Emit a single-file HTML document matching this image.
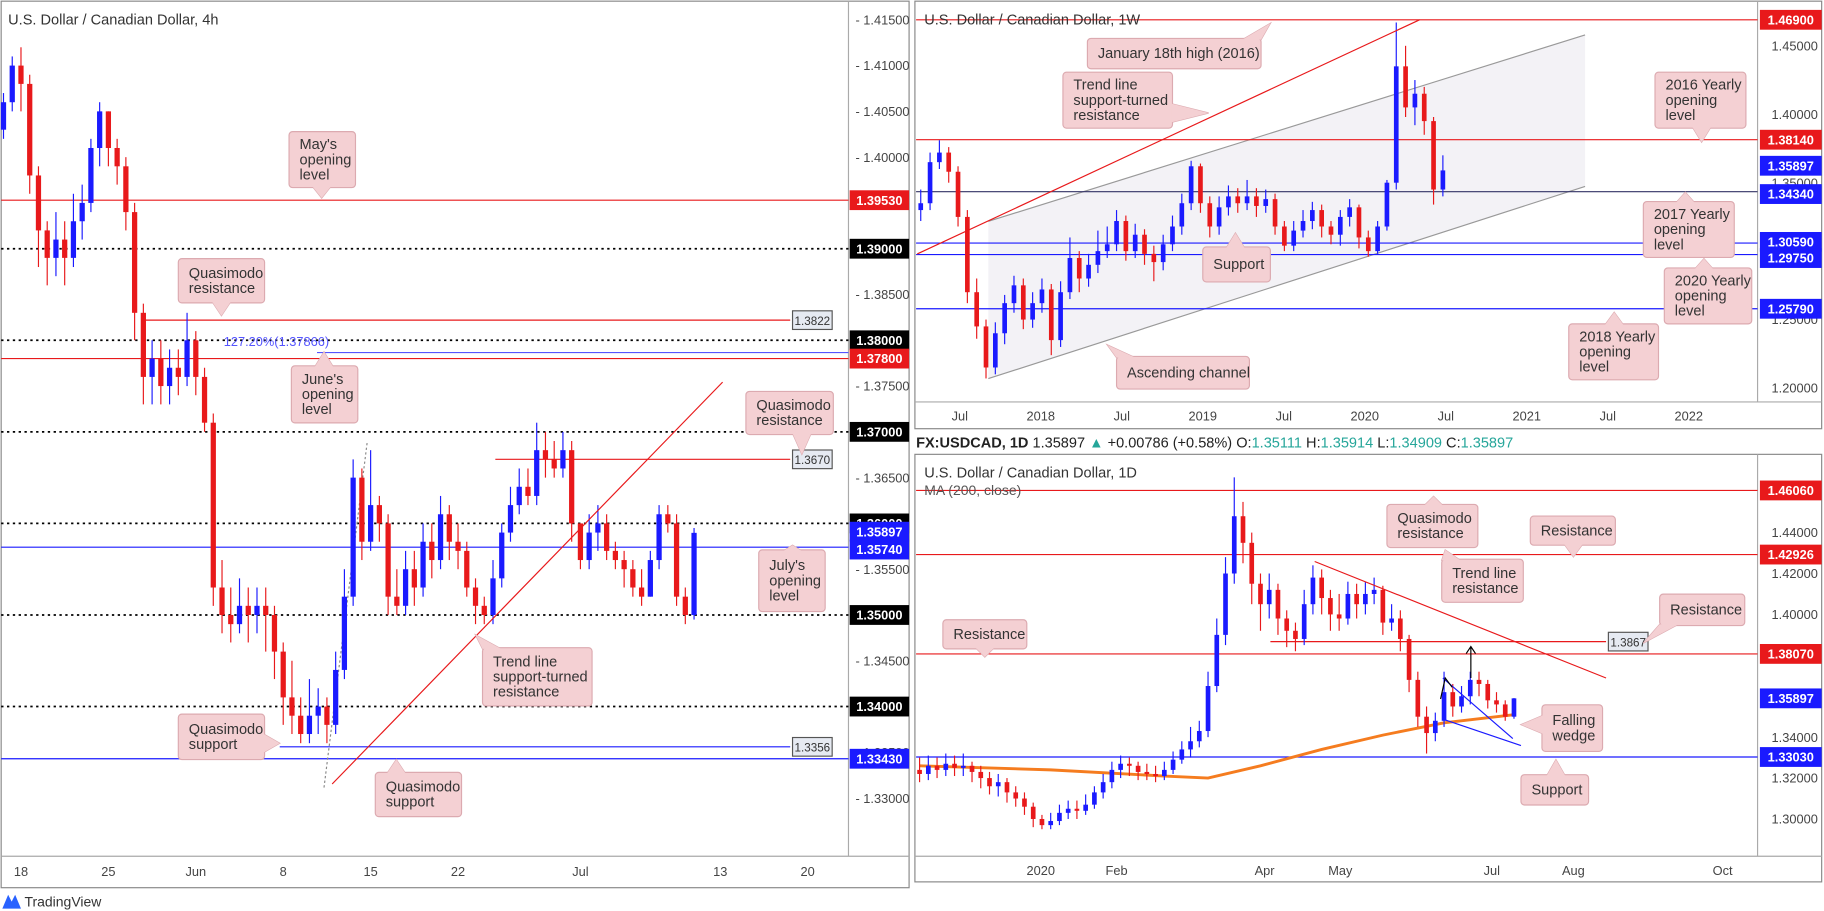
<!DOCTYPE html>
<html><head><meta charset="utf-8"><style>
html,body{margin:0;padding:0;background:#fff;}
svg{display:block;font-family:"Liberation Sans",sans-serif;}
.ax{font-size:11px;fill:#444;}
.lb{font-size:11px;fill:#fff;font-weight:bold;}
.co{font-size:12.5px;fill:#333;}
.cb{fill:#f4d0d3;stroke:#dcaab0;stroke-width:1;}
</style></head><body>
<svg id="chart" width="1824" height="911" viewBox="0 0 1565 782" preserveAspectRatio="none">
<!-- panels -->
<rect x="1" y="1" width="779" height="761" fill="#fff" stroke="#888"/>
<rect x="785" y="1" width="778" height="367" fill="#fff" stroke="#888"/>
<rect x="785" y="390" width="778" height="367" fill="#fff" stroke="#888"/>
<line x1="728" y1="1" x2="728" y2="735" stroke="#aaa"/>
<line x1="1" y1="735" x2="780" y2="735" stroke="#aaa"/>
<line x1="1508" y1="1" x2="1508" y2="345" stroke="#aaa"/>
<line x1="785" y1="345" x2="1563" y2="345" stroke="#aaa"/>
<line x1="1508" y1="390" x2="1508" y2="735" stroke="#aaa"/>
<line x1="785" y1="735" x2="1563" y2="735" stroke="#aaa"/>

<g id="gL"></g>
<g id="gW"></g>
<g id="gD"></g>

<text x="7" y="21" font-size="12.5" fill="#333">U.S. Dollar / Canadian Dollar, 4h</text>
<text x="793" y="21" font-size="12.5" fill="#333">U.S. Dollar / Canadian Dollar, 1W</text>
<text x="793" y="410" font-size="12.5" fill="#333">U.S. Dollar / Canadian Dollar, 1D</text>
<text x="793" y="425" font-size="12" fill="#555">MA (200, close)</text>
<text x="786" y="384" font-size="12.5" fill="#222"><tspan font-weight="bold">FX:USDCAD, 1D</tspan> 1.35897 <tspan fill="#26a69a">▲</tspan> +0.00786 (+0.58%) O:<tspan fill="#26a69a">1.35111</tspan> H:<tspan fill="#26a69a">1.35914</tspan> L:<tspan fill="#26a69a">1.34909</tspan> C:<tspan fill="#26a69a">1.35897</tspan></text>
<g><path d="M2 780 L7 768 L10 774 L13 768 L18 780 Z" fill="#2962ff"/><text x="21" y="778" font-size="12" fill="#333">TradingView</text></g>
</svg>
<script>
// ---------- LEFT 4h ----------
const leftOpen0 = 1.403;
const leftClose = [1.406,1.410,1.408,1.398,1.392,1.389,1.391,1.389,1.393,1.395,1.401,1.405,1.401,1.399,1.394,1.383,1.376,1.378,1.375,1.377,1.376,1.380,1.376,1.371,1.353,1.350,1.349,1.351,1.350,1.351,1.350,1.346,1.341,1.339,1.337,1.339,1.340,1.338,1.344,1.352,1.365,1.358,1.362,1.360,1.352,1.351,1.355,1.353,1.358,1.356,1.361,1.358,1.357,1.353,1.351,1.350,1.354,1.359,1.362,1.364,1.363,1.368,1.367,1.366,1.368,1.360,1.356,1.359,1.360,1.357,1.356,1.355,1.353,1.352,1.356,1.361,1.360,1.352,1.350,1.35897];
const leftHigh = [1.407,1.411,1.412,1.409,1.399,1.393,1.394,1.393,1.396,1.397,1.402,1.406,1.405,1.402,1.400,1.395,1.384,1.380,1.380,1.379,1.379,1.383,1.381,1.377,1.372,1.356,1.353,1.354,1.353,1.353,1.353,1.351,1.347,1.345,1.341,1.343,1.342,1.341,1.346,1.355,1.367,1.366,1.368,1.363,1.361,1.355,1.357,1.357,1.360,1.360,1.363,1.362,1.360,1.358,1.354,1.352,1.356,1.360,1.364,1.366,1.366,1.371,1.370,1.369,1.370,1.369,1.360,1.361,1.362,1.361,1.358,1.357,1.356,1.355,1.357,1.362,1.362,1.361,1.353,1.3595];
const leftLow = [1.402,1.405,1.405,1.396,1.388,1.386,1.387,1.386,1.388,1.391,1.394,1.399,1.399,1.397,1.392,1.380,1.373,1.373,1.373,1.373,1.374,1.375,1.374,1.370,1.351,1.348,1.347,1.348,1.347,1.348,1.346,1.343,1.338,1.337,1.336,1.336,1.337,1.336,1.337,1.343,1.351,1.356,1.357,1.358,1.350,1.350,1.350,1.351,1.352,1.354,1.355,1.356,1.355,1.352,1.349,1.349,1.349,1.353,1.358,1.361,1.362,1.362,1.365,1.365,1.365,1.358,1.355,1.355,1.357,1.356,1.355,1.353,1.352,1.351,1.352,1.355,1.359,1.351,1.349,1.3495];
const leftTicks = [1.415,1.41,1.405,1.40,1.395,1.39,1.385,1.38,1.375,1.37,1.365,1.36,1.355,1.35,1.345,1.34,1.335,1.33];
const leftDates = ["18","25","Jun","8","15","22","Jul","13","20"];
const leftDateIdx = [2,12,22,32,42,52,66,82,92]; // half-day slots
// ---------- WEEKLY ----------
const wOpen0 = 1.330;
const wClose = [1.335,1.365,1.372,1.358,1.325,1.270,1.245,1.215,1.240,1.262,1.275,1.250,1.262,1.272,1.235,1.270,1.295,1.280,1.290,1.300,1.305,1.322,1.300,1.312,1.298,1.292,1.305,1.318,1.335,1.362,1.335,1.318,1.332,1.340,1.335,1.340,1.333,1.338,1.318,1.304,1.315,1.322,1.330,1.318,1.312,1.325,1.332,1.310,1.300,1.318,1.350,1.435,1.405,1.415,1.395,1.345,1.35897];
const wHigh = [1.345,1.372,1.381,1.376,1.362,1.330,1.280,1.250,1.248,1.268,1.282,1.280,1.270,1.280,1.276,1.278,1.310,1.300,1.298,1.315,1.318,1.330,1.326,1.320,1.316,1.304,1.312,1.326,1.342,1.366,1.364,1.340,1.340,1.348,1.346,1.352,1.346,1.345,1.342,1.322,1.322,1.330,1.336,1.334,1.322,1.330,1.338,1.334,1.315,1.322,1.352,1.467,1.450,1.425,1.420,1.398,1.370];
const wLow = [1.322,1.330,1.360,1.350,1.318,1.262,1.236,1.207,1.210,1.232,1.255,1.243,1.244,1.255,1.224,1.230,1.265,1.270,1.274,1.284,1.295,1.300,1.293,1.295,1.290,1.278,1.286,1.300,1.312,1.330,1.328,1.310,1.312,1.326,1.328,1.330,1.325,1.328,1.312,1.300,1.300,1.310,1.316,1.310,1.305,1.304,1.318,1.302,1.296,1.298,1.315,1.345,1.398,1.392,1.385,1.334,1.340];
const wTicks = [1.45,1.40,1.35,1.30,1.25,1.20];
const wDates = ["Jul","2018","Jul","2019","Jul","2020","Jul","2021","Jul","2022"];
const wDatePos = [2017.5,2018,2018.5,2019,2019.5,2020,2020.5,2021,2021.5,2022];
// ---------- DAILY ----------
const dOpen0 = 1.324;
const dClose = [1.322,1.326,1.324,1.327,1.325,1.326,1.323,1.320,1.316,1.318,1.313,1.310,1.306,1.300,1.297,1.299,1.303,1.305,1.304,1.307,1.313,1.318,1.324,1.327,1.326,1.323,1.322,1.321,1.324,1.329,1.334,1.338,1.343,1.365,1.390,1.420,1.448,1.435,1.415,1.405,1.412,1.398,1.392,1.388,1.405,1.418,1.408,1.400,1.398,1.410,1.405,1.410,1.412,1.396,1.398,1.388,1.368,1.350,1.342,1.348,1.362,1.355,1.360,1.368,1.366,1.358,1.356,1.350,1.35897];
const dHigh = [1.330,1.331,1.330,1.332,1.331,1.332,1.328,1.326,1.323,1.322,1.320,1.316,1.313,1.308,1.302,1.303,1.307,1.309,1.309,1.312,1.316,1.322,1.328,1.331,1.330,1.328,1.327,1.326,1.328,1.333,1.338,1.345,1.348,1.372,1.398,1.428,1.467,1.455,1.440,1.420,1.420,1.415,1.402,1.396,1.412,1.424,1.422,1.412,1.410,1.416,1.415,1.416,1.418,1.414,1.405,1.402,1.390,1.372,1.355,1.352,1.372,1.366,1.365,1.372,1.372,1.368,1.362,1.358,1.3591];
const dLow = [1.318,1.319,1.320,1.321,1.321,1.321,1.318,1.315,1.312,1.311,1.308,1.306,1.302,1.296,1.295,1.295,1.297,1.300,1.300,1.302,1.305,1.310,1.315,1.320,1.321,1.319,1.319,1.318,1.319,1.322,1.327,1.330,1.335,1.340,1.362,1.385,1.415,1.425,1.405,1.392,1.398,1.390,1.384,1.382,1.385,1.400,1.400,1.392,1.392,1.395,1.398,1.400,1.405,1.390,1.392,1.382,1.362,1.345,1.332,1.338,1.345,1.350,1.352,1.356,1.360,1.354,1.352,1.348,1.349];
const maValues = [1.326,1.324,1.321,1.320,1.326,1.334,1.341,1.347,1.351];
const maIdx = [0,15,28,33,39,46,53,60,68];
const dTicks = [1.44,1.42,1.40,1.38,1.36,1.34,1.32,1.30];
const dDates = ["2020","Feb","Apr","May","Jul","Aug","Oct"];
const dDatePos = [893,958,1085,1150,1280,1350,1478];

const NS = "http://www.w3.org/2000/svg";
function mk(parent, tag, attrs){ const e=document.createElementNS(NS,tag); for(const k in attrs) e.setAttribute(k,attrs[k]); parent.appendChild(e); return e; }
const UP="#1a1aff", DN="#e8191b";

// scales
const yL = p => 17 + (1.415 - p) / 0.005 * 39.3;
const xL = i => 3 + i * 7.5;
const yW = p => 17 + (1.469 - p) * 1175;
const xW = i => 790 + i * 8;
const xWt = t => 893 + (t - 2018) * 139;
const yD = p => 421 + (1.4606 - p) * 1756;
const xD = i => 789 + i * 7.5;

function candles(g, opens0, closes, highs, lows, xs, ys, bw, name){
  let o = opens0;
  for (let i=0;i<closes.length;i++){
    const c = closes[i], col = c>=o?UP:DN, x = xs(i);
    const w = mk(g,'line',{x1:x,x2:x,y1:ys(highs[i]),y2:ys(lows[i]),stroke:col,'stroke-width':1});
    
    
    const top = Math.min(ys(o),ys(c)), h = Math.max(1,Math.abs(ys(o)-ys(c)));
    const b = mk(g,'rect',{x:x-bw/2,y:top,width:bw,height:h,fill:col});
    
    
    o = c;
  }
}
function hline(g, y, x1, x2, color, dash, name, w){
  const l = mk(g,'line',{x1:x1,x2:x2,y1:y,y2:y,stroke:color,'stroke-width':w||1});
  if(dash) l.setAttribute('stroke-dasharray',dash);
  
  
}
function priceBox(g, y, x, w, bg, txt, name){
  const gg = mk(g,'g',{});
  
  
  mk(gg,'rect',{x:x,y:y-8.5,width:w,height:17,fill:bg});
  const t = mk(gg,'text',{x:x+w/2,y:y+4,'text-anchor':'middle',class:'lb'}); t.textContent = txt;
}
function smallBox(g, y, x, txt, name){
  const gg = mk(g,'g',{});
  
  
  mk(gg,'rect',{x:x,y:y-8,width:34,height:16,fill:'#e6eaf2',stroke:'#555'});
  const t = mk(gg,'text',{x:x+17,y:y+4,'text-anchor':'middle','font-size':'10',fill:'#333'}); t.textContent = txt;
}
function callout(g, lines, x, y, w, h, px, py, name){
  const gg = mk(g,'g',{});
  
  
  const cx = Math.max(x+8, Math.min(x+w-8, px)), cy = Math.max(y+8, Math.min(y+h-8, py));
  let pts;
  if (py < y) pts = `${cx-8},${y+1} ${px},${py} ${cx+8},${y+1}`;
  else if (py > y+h) pts = `${cx-8},${y+h-1} ${px},${py} ${cx+8},${y+h-1}`;
  else if (px < x) pts = `${x+1},${cy-8} ${px},${py} ${x+1},${cy+8}`;
  else pts = `${x+w-1},${cy-8} ${px},${py} ${x+w-1},${cy+8}`;
  mk(gg,'polygon',{points:pts,class:'cb'});
  mk(gg,'rect',{x:x,y:y,width:w,height:h,rx:3,class:'cb'});
  mk(gg,'polygon',{points:pts,fill:'#f4d0d3'});
  const lh = 13, start = y + h/2 - (lines.length-1)*lh/2 + 4;
  lines.forEach((s,k)=>{ const t = mk(gg,'text',{x:x+9,y:start+k*lh,class:'co'}); t.textContent = s; });
}

// ===== LEFT =====
const gL = document.getElementById('gL');
leftTicks.forEach(p=>{ const t=mk(gL,'text',{x:734,y:yL(p)+4,class:'ax'}); t.textContent='- '+p.toFixed(5);
    });
leftDates.forEach((s,k)=>{ const t=mk(gL,'text',{x:xL(leftDateIdx[k]/1)+0,y:752,'text-anchor':'middle',class:'ax'}); t.textContent=s;
    });
hline(gL, yL(1.3953), 1, 728, '#e8191b', null, 'may-opening-level');
hline(gL, yL(1.39), 1, 728, '#000', '2,3', 'level-1-39000', 1.5);
hline(gL, yL(1.38), 1, 728, '#000', '2,3', 'level-1-38000', 1.5);
hline(gL, yL(1.378), 1, 728, '#e8191b', null, 'june-opening-level');
hline(gL, yL(1.37866), 272, 728, '#5555ff', null, 'fib-127-level');
hline(gL, yL(1.3822), 125, 678, '#e8191b', null, 'quasimodo-resistance-1-3822');
hline(gL, yL(1.37), 1, 728, '#000', '2,3', 'level-1-37000', 1.5);
hline(gL, yL(1.367), 425, 678, '#e8191b', null, 'quasimodo-resistance-1-3670');
hline(gL, yL(1.36), 1, 728, '#000', '2,3', 'level-1-36000', 1.5);
hline(gL, yL(1.3574), 1, 728, '#1a1aff', null, 'july-opening-level');
hline(gL, yL(1.35), 1, 728, '#000', '2,3', 'level-1-35000', 1.5);
hline(gL, yL(1.34), 1, 728, '#000', '2,3', 'level-1-34000', 1.5);
hline(gL, yL(1.3356), 240, 678, '#1a1aff', null, 'quasimodo-support-1-3356');
hline(gL, yL(1.3343), 1, 728, '#1a1aff', null, 'level-1-33430');
{ const l=mk(gL,'line',{x1:278,y1:676,x2:315,y2:380,stroke:'#888','stroke-dasharray':'2,2'});   }
candles(gL, leftOpen0, leftClose, leftHigh, leftLow, xL, yL, 4.5, 'left');
{ const l=mk(gL,'line',{x1:285,y1:673,x2:620,y2:328,stroke:'#e8191b'});   }
{ const t=mk(gL,'text',{x:192,y:297,'font-size':'11',fill:'#5555ff'}); t.textContent='127.20%(1.37866)';   }
smallBox(gL, yL(1.3822), 680, '1.3822', 'label-1-3822');
smallBox(gL, yL(1.367), 680, '1.3670', 'label-1-3670');
smallBox(gL, yL(1.3356), 680, '1.3356', 'label-1-3356');
priceBox(gL, yL(1.3953), 729, 51, '#e8191b', '1.39530', 'price-label-1-39530');
priceBox(gL, yL(1.39), 729, 51, '#000', '1.39000', 'price-label-1-39000');
priceBox(gL, yL(1.38), 729, 51, '#000', '1.38000', 'price-label-1-38000');
priceBox(gL, yL(1.378), 729, 51, '#e8191b', '1.37800', 'price-label-1-37800');
priceBox(gL, yL(1.37), 729, 51, '#000', '1.37000', 'price-label-1-37000');
priceBox(gL, yL(1.36), 729, 51, '#000', '1.36000', 'price-label-1-36000');
priceBox(gL, yL(1.35897)-1, 729, 51, '#1a1aff', '1.35897', 'price-label-current');
priceBox(gL, yL(1.3574)+2, 729, 51, '#1a1aff', '1.35740', 'price-label-1-35740');
priceBox(gL, yL(1.35), 729, 51, '#000', '1.35000', 'price-label-1-35000');
priceBox(gL, yL(1.34), 729, 51, '#000', '1.34000', 'price-label-1-34000');
priceBox(gL, yL(1.3343), 729, 51, '#1a1aff', '1.33430', 'price-label-1-33430');
callout(gL, ["May's","opening","level"], 248, 113, 57, 48, 276, 170, 'callout-may-opening');
callout(gL, ["Quasimodo","resistance"], 153, 222, 74, 38, 190, 271, 'callout-quasimodo-resistance-left');
callout(gL, ["June's","opening","level"], 250, 314, 57, 49, 278, 302, 'callout-june-opening');
callout(gL, ["Quasimodo","resistance"], 640, 336, 75, 37, 688, 390, 'callout-quasimodo-resistance-1-367');
callout(gL, ["July's","opening","level"], 651, 472, 57, 53, 680, 468, 'callout-july-opening');
callout(gL, ["Trend line","support-turned","resistance"], 414, 556, 94, 50, 408, 545, 'callout-trendline-left');
callout(gL, ["Quasimodo","support"], 153, 613, 74, 39, 240, 638, 'callout-quasimodo-support-1');
callout(gL, ["Quasimodo","support"], 322, 663, 74, 38, 340, 652, 'callout-quasimodo-support-2');

// ===== WEEKLY =====
const gW = document.getElementById('gW');
{ const p=mk(gW,'polygon',{points:`848,${190} 1360,30 1360,160 848,325`,fill:'#f3f2f6'});   }
{ const l=mk(gW,'line',{x1:848,y1:190,x2:1360,y2:30,stroke:'#999'});   }
{ const l=mk(gW,'line',{x1:848,y1:325,x2:1360,y2:160,stroke:'#999'});   }
wTicks.forEach(p=>{ const t=mk(gW,'text',{x:1520,y:yW(p)+4,class:'ax'}); t.textContent=p.toFixed(5);
    });
wDates.forEach((s,k)=>{ const t=mk(gW,'text',{x:xWt(wDatePos[k]),y:361,'text-anchor':'middle',class:'ax'}); t.textContent=s;
    });
hline(gW, yW(1.469), 786, 1508, '#e8191b', null, 'jan-2016-high');
hline(gW, yW(1.3814), 786, 1508, '#e8191b', null, 'yearly-2016-open');
hline(gW, yW(1.3434), 786, 1508, '#333366', null, 'yearly-2017-open');
hline(gW, yW(1.3059), 786, 1508, '#1a1aff', null, 'support-1-30590');
hline(gW, yW(1.2975), 786, 1508, '#1a1aff', null, 'yearly-2020-open');
hline(gW, yW(1.2579), 786, 1508, '#1a1aff', null, 'yearly-2018-open');
candles(gW, wOpen0, wClose, wHigh, wLow, xW, yW, 4, 'weekly');
{ const l=mk(gW,'line',{x1:787,y1:218,x2:1218,y2:17,stroke:'#e8191b'});   }
priceBox(gW, yW(1.469), 1510, 53, '#e8191b', '1.46900', 'w-label-1-46900');
priceBox(gW, yW(1.3814), 1510, 53, '#e8191b', '1.38140', 'w-label-1-38140');
priceBox(gW, yW(1.35897)-4, 1510, 53, '#1a1aff', '1.35897', 'w-label-current');
priceBox(gW, yW(1.3434)+2, 1510, 53, '#1a1aff', '1.34340', 'w-label-1-34340');
priceBox(gW, yW(1.3059)-1, 1510, 53, '#1a1aff', '1.30590', 'w-label-1-30590');
priceBox(gW, yW(1.2975)+3, 1510, 53, '#1a1aff', '1.29750', 'w-label-1-29750');
priceBox(gW, yW(1.2579), 1510, 53, '#1a1aff', '1.25790', 'w-label-1-25790');
callout(gW, ["January 18th high (2016)"], 933, 33, 149, 26, 1090, 20, 'callout-jan-18th-high');
callout(gW, ["Trend line","support-turned","resistance"], 912, 62, 94, 48, 1037, 97, 'callout-trendline-weekly');
callout(gW, ["2016 Yearly","opening","level"], 1420, 62, 78, 48, 1460, 122, 'callout-2016-yearly');
callout(gW, ["2017 Yearly","opening","level"], 1410, 173, 78, 48, 1446, 165, 'callout-2017-yearly');
callout(gW, ["2020 Yearly","opening","level"], 1428, 230, 75, 48, 1462, 222, 'callout-2020-yearly');
callout(gW, ["Support"], 1032, 212, 58, 30, 1060, 200, 'callout-support-weekly');
callout(gW, ["2018 Yearly","opening","level"], 1346, 278, 77, 48, 1385, 268, 'callout-2018-yearly');
callout(gW, ["Ascending channel"], 958, 306, 114, 28, 950, 296, 'callout-ascending-channel');

// ===== DAILY =====
const gD = document.getElementById('gD');
dTicks.forEach(p=>{ const t=mk(gD,'text',{x:1520,y:yD(p)+4,class:'ax'}); t.textContent=p.toFixed(5);
    });
dDates.forEach((s,k)=>{ const t=mk(gD,'text',{x:dDatePos[k],y:751,'text-anchor':'middle',class:'ax'}); t.textContent=s;
    });
hline(gD, yD(1.4606), 786, 1508, '#e8191b', null, 'quasimodo-resistance-1-4606');
hline(gD, yD(1.42926), 786, 1508, '#e8191b', null, 'resistance-1-42926');
hline(gD, yD(1.3867), 1090, 1378, '#e8191b', null, 'resistance-1-3867');
hline(gD, yD(1.3807), 786, 1508, '#e8191b', null, 'resistance-1-38070');
hline(gD, yD(1.3303), 786, 1508, '#1a1aff', null, 'support-1-33030');
{ let pts = maIdx.map((ix,k)=>xD(ix)+','+yD(maValues[k])).join(' ');
  const l=mk(gD,'polyline',{points:pts,fill:'none',stroke:'#f57c1f','stroke-width':2.5});
    }
candles(gD, dOpen0, dClose, dHigh, dLow, xD, yD, 4, 'daily');
{ const l=mk(gD,'line',{x1:1128,y1:482,x2:1378,y2:582,stroke:'#e8191b'});   }
{ const l=mk(gD,'line',{x1:1238,y1:582,x2:1298,y2:634,stroke:'#1a1aff'});   }
{ const l=mk(gD,'line',{x1:1240,y1:618,x2:1305,y2:640,stroke:'#1a1aff'});   }
{ const l=mk(gD,'path',{d:'M1262 582 L1262 555 M1258 561 L1262 555 L1266 561 M1236 600 L1240 582 L1246 590',fill:'none',stroke:'#000'});   }
smallBox(gD, yD(1.3867), 1380, '1.3867', 'label-1-3867');
priceBox(gD, yD(1.4606), 1510, 53, '#e8191b', '1.46060', 'd-label-1-46060');
priceBox(gD, yD(1.42926), 1510, 53, '#e8191b', '1.42926', 'd-label-1-42926');
priceBox(gD, yD(1.3807), 1510, 53, '#e8191b', '1.38070', 'd-label-1-38070');
priceBox(gD, yD(1.35897), 1510, 53, '#1a1aff', '1.35897', 'd-label-current');
priceBox(gD, yD(1.3303), 1510, 53, '#1a1aff', '1.33030', 'd-label-1-33030');
callout(gD, ["Quasimodo","resistance"], 1190, 433, 78, 37, 1230, 426, 'callout-quasimodo-resistance-daily');
callout(gD, ["Resistance"], 1313, 443, 73, 25, 1350, 478, 'callout-resistance-1-429');
callout(gD, ["Trend line","resistance"], 1237, 480, 70, 37, 1240, 472, 'callout-trendline-resistance');
callout(gD, ["Resistance"], 1424, 510, 73, 27, 1410, 552, 'callout-resistance-1-3867');
callout(gD, ["Resistance"], 809, 532, 72, 25, 845, 564, 'callout-resistance-1-3807');
callout(gD, ["Falling","wedge"], 1323, 605, 52, 40, 1305, 622, 'callout-falling-wedge');
callout(gD, ["Support"], 1305, 665, 58, 26, 1335, 652, 'callout-support-daily');
</script>
</body></html>
